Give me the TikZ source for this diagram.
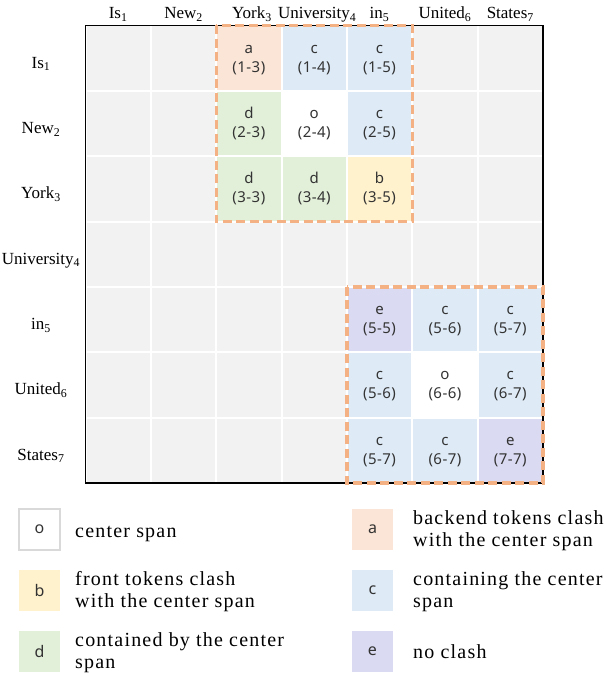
\documentclass[tikz,border=0pt]{standalone}
\usepackage{fontspec}
\setmainfont{Liberation Serif}
\newfontfamily\cellfont{Noto Sans}[LetterSpace=3]
\newfontfamily\legfont{Liberation Serif}[LetterSpace=6]
\definecolor{cgray}{HTML}{F2F2F2}
\definecolor{ca}{HTML}{FBE5D6}
\definecolor{cb}{HTML}{FFF2CC}
\definecolor{cc}{HTML}{DEEBF7}
\definecolor{cd}{HTML}{E2F0D9}
\definecolor{ce}{HTML}{DADAF2}
\definecolor{dashor}{HTML}{F4B183}
\definecolor{lgray}{HTML}{D9D9D9}
\definecolor{celltxt}{HTML}{333333}
\tikzset{
 cell/.style={rectangle, minimum size=65.35pt, inner sep=0pt, outer sep=0pt, draw=white, line width=2pt},
 celltext/.style={font=\cellfont\fontsize{15}{19}\selectfont, text=celltxt, align=center, inner sep=0pt},
 lab/.style={font=\fontsize{17}{20}\selectfont, inner sep=0pt, anchor=base},
 dashbox/.style={draw=dashor, line width=3.3pt, dash pattern=on 9pt off 4.5pt},
 legbox/.style={rectangle, minimum size=41pt, inner sep=0pt, font=\cellfont\fontsize{16}{18}\selectfont, text=celltxt},
 legtext/.style={font=\legfont\fontsize{20}{22}\selectfont, align=left, anchor=base west, inner sep=0pt},
}
\begin{document}
\begin{tikzpicture}[x=1pt,y=-1pt]
\useasboundingbox (0,0) rectangle (606,674);
\fill[white] (0,0) rectangle (606,674);
% gray grid
\foreach \i in {1,...,7}{
  \foreach \j in {1,...,7}{
    \node[cell, fill=cgray] (g\i\j) at ({85.5+(\j-0.5)*65.35},{25.5+(\i-0.5)*65.35}) {};
  }
}
% coloured cells
\foreach \i/\j/\f/\l/\r in {
  1/3/ca/a/1-3, 1/4/cc/c/1-4, 1/5/cc/c/1-5,
  2/3/cd/d/2-3, 2/4/white/o/2-4, 2/5/cc/c/2-5,
  3/3/cd/d/3-3, 3/4/cd/d/3-4, 3/5/cb/b/3-5,
  5/5/ce/e/5-5, 5/6/cc/c/5-6, 5/7/cc/c/5-7,
  6/5/cc/c/5-6, 6/6/white/o/6-6, 6/7/cc/c/6-7,
  7/5/cc/c/5-7, 7/6/cc/c/6-7, 7/7/ce/e/7-7}{
  \node[cell, fill=\f] (s\i\j) at (g\i\j) {};
  \node[celltext, anchor=base] (t\i\j) at ([yshift=-14pt]s\i\j.center) {\l\\(\r)};
}
% frame
\draw[line width=1.5pt] (g11.north west) rectangle (g77.south east);
% dashed groups
\draw[dashbox] (s13.north west) rectangle (s35.south east);
\draw[dashbox] (s55.north west) rectangle (s77.south east);
% column headers
\node[lab] (h1) at (g11.center |- 0,19) {Is\textsubscript{1}};
\node[lab] (h2) at (g12.center |- 0,19) {New\textsubscript{2}};
\node[lab] (h3) at ([xshift=3pt]g13.center |- 0,19) {York\textsubscript{3}};
\node[lab] (h4) at ([xshift=3pt]g14.center |- 0,19) {University\textsubscript{4}};
\node[lab] (h5) at (g15.center |- 0,19) {in\textsubscript{5}};
\node[lab] (h6) at (g16.center |- 0,19) {United\textsubscript{6}};
\node[lab] (h7) at (g17.center |- 0,19) {States\textsubscript{7}};
% row headers
\node[lab] (r1) at ([yshift=-10pt]g11.center -| 41,0) {Is\textsubscript{1}};
\node[lab] (r2) at ([yshift=-10pt]g21.center -| 41,0) {New\textsubscript{2}};
\node[lab] (r3) at ([yshift=-10pt]g31.center -| 41,0) {York\textsubscript{3}};
\node[lab] (r4) at ([yshift=-10pt]g41.center -| 41,0) {University\textsubscript{4}};
\node[lab] (r5) at ([yshift=-10pt]g51.center -| 41,0) {in\textsubscript{5}};
\node[lab] (r6) at ([yshift=-10pt]g61.center -| 41,0) {United\textsubscript{6}};
\node[lab] (r7) at ([yshift=-10pt]g71.center -| 41,0) {States\textsubscript{7}};
% legend
\node[legbox, fill=white, draw=lgray, line width=1.5pt] (lo) at (39.5,529.5) {o};
\node[legtext] (lto) at (75,537.5) {center span};
\node[legbox, fill=cb] (lb) at (39.5,590.5) {b};
\node[legtext] (ltb) at (75,607) {front tokens clash\\with the center span};
\node[legbox, fill=cd] (ld) at (39.5,651.5) {d};
\node[legtext] (ltd) at (75,668) {contained by the center\\span};
\node[legbox, fill=ca] (la) at (372.5,529.5) {a};
\node[legtext] (lta) at (413,546) {backend tokens clash\\with the center span};
\node[legbox, fill=cc] (lc) at (372.5,590.5) {c};
\node[legtext] (ltc) at (413,607) {containing the center\\span};
\node[legbox, fill=ce] (le) at (372.5,651.5) {e};
\node[legtext] (lte) at (413,658.5) {no clash};
\end{tikzpicture}
\end{document}
